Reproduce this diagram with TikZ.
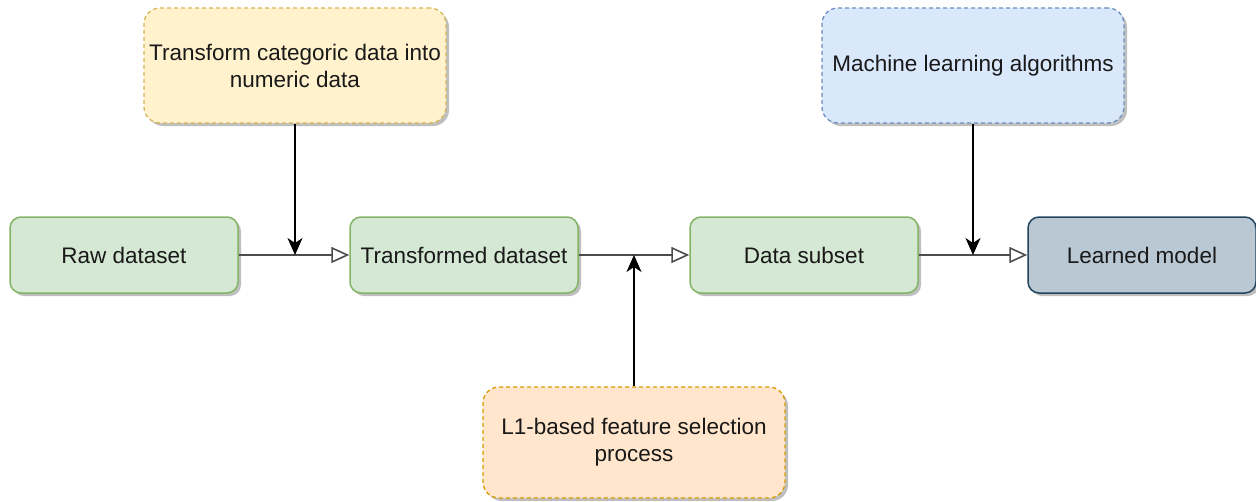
\documentclass[tikz,border=0pt]{standalone}
\usepackage{fontspec}
\setmainfont{Liberation Sans}
\usetikzlibrary{arrows.meta,shadows}

\definecolor{greenfill}{HTML}{D5E8D4}
\definecolor{greenline}{HTML}{82B366}
\definecolor{yellowfill}{HTML}{FFF2CC}
\definecolor{yellowline}{HTML}{D6B656}
\definecolor{bluefill}{HTML}{DAE8FC}
\definecolor{blueline}{HTML}{6C8EBF}
\definecolor{orangefill}{HTML}{FFE6CC}
\definecolor{orangeline}{HTML}{D79B00}
\definecolor{slatefill}{HTML}{BAC8D3}
\definecolor{slateline}{HTML}{23445D}

\tikzset{
  box/.style={rectangle, rounded corners=11pt, line width=1.5pt,
    minimum width=228pt, minimum height=76pt, inner sep=0pt,
    text=black!90, font=\fontsize{22.5}{27}\selectfont, align=center,
    drop shadow={shadow xshift=3pt, shadow yshift=-3pt, opacity=0.25, fill=black}},
  stagebox/.style={box, fill=greenfill, draw=greenline},
  modelbox/.style={box, fill=slatefill, draw=slateline},
  notebox/.style={box, rounded corners=16pt, minimum width=302pt, dashed,
    dash pattern=on 4pt off 3pt, line width=1.3pt},
  flow/.style={draw=black!70, line width=2.2pt,
    -{Triangle[open, length=18pt, width=16pt, line width=1.6pt]}},
  feed/.style={draw=black, line width=1.7pt,
    -{Stealth[length=17pt, width=15pt, inset=5pt]}}
}

\begin{document}
\begin{tikzpicture}[x=1pt, y=-1pt]
  \useasboundingbox (0,0) rectangle (1256,501);

  % main pipeline
  \node[stagebox] (raw)   at (124,255)  {Raw dataset};
  \node[stagebox] (trans) at (464,255)  {Transformed dataset};
  \node[stagebox] (sub)   at (804,255)  {Data subset};
  \node[modelbox] (model) at (1142,255) {Learned model};

  % side inputs
  \node[notebox, fill=yellowfill, draw=yellowline, minimum height=115pt]
    (encode) at (295,65.5) {Transform categoric data into\\numeric data};
  \node[notebox, fill=bluefill, draw=blueline, minimum height=115pt]
    (algo) at (973,65.5) {Machine learning algorithms};
  \node[notebox, fill=orangefill, draw=orangeline, minimum height=111pt]
    (select) at (634,442.5) {L1-based feature selection\\process};

  % connectors
  \draw[flow] (raw.east) -- (trans.west);
  \draw[flow] (trans.east) -- (sub.west);
  \draw[flow] (sub.east) -- (model.west);

  \coordinate (j1) at (encode.south |- raw.east);
  \coordinate (j2) at (select.north |- trans.east);
  \coordinate (j3) at (algo.south |- sub.east);

  \draw[feed] (encode.south) -- (j1);
  \draw[feed] (select.north) -- (j2);
  \draw[feed] (algo.south) -- (j3);
\end{tikzpicture}
\end{document}
